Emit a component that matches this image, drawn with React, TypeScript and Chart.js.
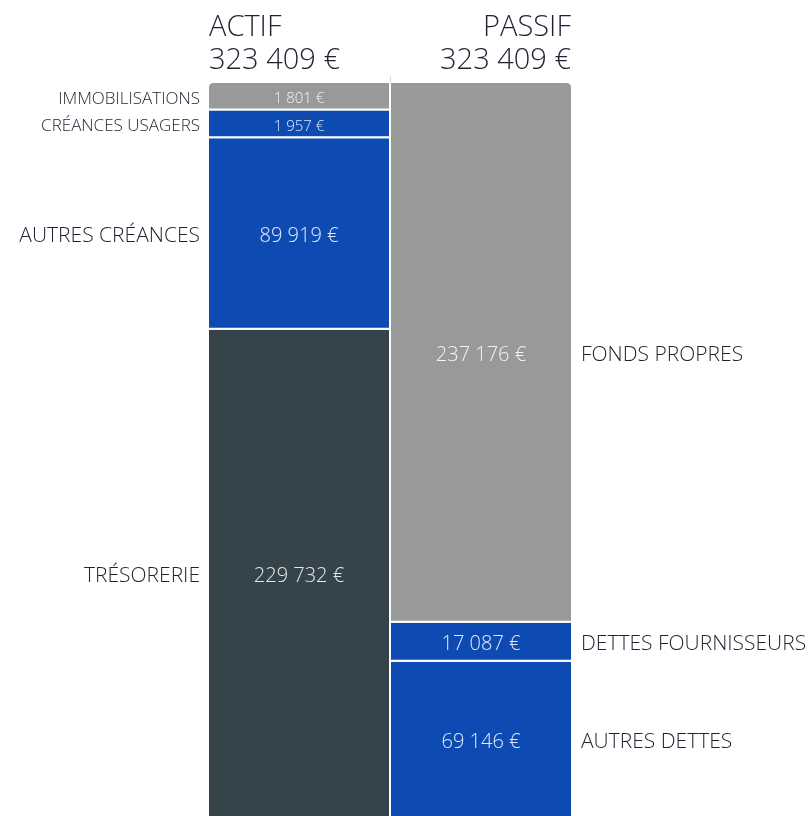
import React, { useEffect, useRef } from "react";
import { Chart, registerables } from "chart.js";

Chart.register(...registerables);

// ---- Data ----
const columns = ["ACTIF", "PASSIF"];
const columnTotals = [323409, 323409];

// listed top to bottom
const actifLabels = ["IMMOBILISATIONS", "CRÉANCES USAGERS", "AUTRES CRÉANCES", "TRÉSORERIE"];
const actifValues = [1801, 1957, 89919, 229732];
const actifColors = ["#999999", "#0d4bb3", "#0d4bb3", "#35444a"];

const passifLabels = ["FONDS PROPRES", "DETTES FOURNISSEURS", "AUTRES DETTES"];
const passifValues = [237176, 17087, 69146];
const passifColors = ["#999999", "#0d4bb3", "#0d4bb3"];

// small segments are shown with a minimum share of the column so their labels fit
const MIN_SHARE = 0.0375;
// share of the column visible inside the window (the bottom is cut by the page)
const VISIBLE_SHARE = 0.9959;

function displayValues(values: number[]): number[] {
  const total = values.reduce((a, b) => a + b, 0);
  const minV = total * MIN_SHARE;
  const small = values.map((v) => v < minV);
  const smallSum = small.reduce((a, s) => a + (s ? minV : 0), 0);
  const bigRaw = values.reduce((a, v, i) => a + (small[i] ? 0 : v), 0);
  const k = (total - smallSum) / bigRaw;
  return values.map((v, i) => (small[i] ? minV : v * k));
}

function fmt(v: number): string {
  return String(v).replace(/\B(?=(\d{3})+(?!\d))/g, " ") + " €";
}

const FONT = '"Open Sans", "Segoe UI", sans-serif';
const TEXT_DARK = "#1e2330";

export default function App() {
  const ref = useRef<HTMLCanvasElement | null>(null);

  useEffect(() => {
    if (!ref.current) return;

    type Seg = { label: string; value: number; shown: number; color: string; col: number; small: boolean };
    const actShown = displayValues(actifValues);
    const pasShown = displayValues(passifValues);
    const segs: Seg[] = [];
    // stacking goes bottom-up, so list each column bottom first
    for (let i = actifValues.length - 1; i >= 0; i--) {
      segs.push({ label: actifLabels[i], value: actifValues[i], shown: actShown[i], color: actifColors[i], col: 0, small: actifValues[i] < columnTotals[0] * MIN_SHARE });
    }
    for (let i = passifValues.length - 1; i >= 0; i--) {
      segs.push({ label: passifLabels[i], value: passifValues[i], shown: pasShown[i], color: passifColors[i], col: 1, small: passifValues[i] < columnTotals[1] * MIN_SHARE });
    }
    const topActif = segs.findIndex((s) => s.label === actifLabels[0]);
    const topPassif = segs.findIndex((s) => s.label === passifLabels[0]);

    const labelsPlugin = {
      id: "labelsPlugin",
      afterDatasetsDraw(chart: any) {
        const ctx = chart.ctx;
        const area = chart.chartArea;
        ctx.save();
        // separator tick between the columns
        const mid = (area.left + area.right) / 2;
        ctx.strokeStyle = "#dddddd";
        ctx.lineWidth = 1;
        ctx.beginPath();
        ctx.moveTo(mid + 0.5, area.top - 7);
        ctx.lineTo(mid + 0.5, area.top);
        ctx.stroke();

        // titles
        ctx.fillStyle = TEXT_DARK;
        ctx.textBaseline = "alphabetic";
        ctx.font = `300 29px ${FONT}`;
        ctx.textAlign = "left";
        ctx.fillText(columns[0], area.left + 1, 36);
        ctx.fillText(fmt(columnTotals[0]), area.left + 1, 69);
        ctx.textAlign = "right";
        ctx.fillText(columns[1], area.right - 1, 36);
        ctx.fillText(fmt(columnTotals[1]), area.right - 1, 69);

        segs.forEach((s, i) => {
          const el = chart.getDatasetMeta(i).data[s.col];
          if (!el) return;
          const cy = (el.y + el.base) / 2 + 2;
          ctx.textBaseline = "middle";
          // value inside
          ctx.fillStyle = "rgba(255,255,255,0.88)";
          ctx.textAlign = "center";
          ctx.font = `300 ${s.small ? 15 : 20}px ${FONT}`;
          ctx.fillText(fmt(s.value), el.x, cy);
          // category label outside
          ctx.fillStyle = TEXT_DARK;
          ctx.font = `300 ${s.small ? 17 : 21}px ${FONT}`;
          if (s.col === 0) {
            ctx.textAlign = "right";
            ctx.fillText(s.label, area.left - 8, cy);
          } else {
            ctx.textAlign = "left";
            ctx.fillText(s.label, area.right + 9, cy);
          }
        });
        ctx.restore();
      },
    };

    const chart = new Chart(ref.current, {
      type: "bar",
      data: {
        labels: columns,
        datasets: segs.map((s, i) => ({
          label: s.label,
          data: s.col === 0 ? [s.shown, null] : [null, s.shown],
          backgroundColor: s.color,
          borderColor: "#ffffff",
          borderWidth: { top: 0, left: 0, right: 0, bottom: 2 },
          borderSkipped: false,
          borderRadius:
            i === topActif ? { topLeft: 4, topRight: 0, bottomLeft: 0, bottomRight: 0 } :
            i === topPassif ? { topLeft: 0, topRight: 4, bottomLeft: 0, bottomRight: 0 } : 0,
          barPercentage: 180 / 182,
          categoryPercentage: 1,
          inflateAmount: 0,
        })) as any,
      },
      options: {
        animation: false,
        responsive: false,
        maintainAspectRatio: false,
        layout: { padding: { left: 208, right: 236, top: 83, bottom: 0 } },
        plugins: {
          legend: { display: false },
          tooltip: { enabled: false },
          title: { display: false },
        },
        scales: {
          x: { stacked: true, display: false, grid: { display: false } },
          y: {
            stacked: true,
            display: false,
            min: columnTotals[0] * (1 - VISIBLE_SHARE),
            max: columnTotals[0],
            grid: { display: false },
          },
        },
      },
      plugins: [labelsPlugin],
    });

    return () => chart.destroy();
  }, []);

  return (
    <div style={{ position: "absolute", left: 0, top: 0, width: 808, height: 816, background: "#ffffff" }}>
      <canvas ref={ref} width={808} height={816} style={{ display: "block", width: 808, height: 816 }} />
    </div>
  );
}
